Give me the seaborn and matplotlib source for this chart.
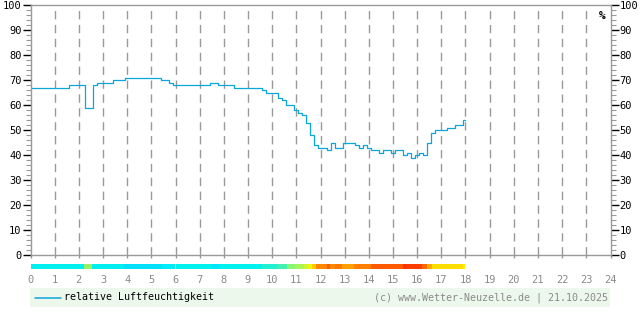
import numpy as np
import pandas as pd
import matplotlib
matplotlib.use("Agg")
import matplotlib.pyplot as plt
import seaborn as sns

# ---- data -------------------------------------------------------------
# relative humidity (%) every 10 minutes from 00:00 to 18:00
humidity = [
    67, 67, 67, 67, 67, 67, 67, 67, 67, 67,   # 0:00 - 1:30
    68, 68, 68, 68, 59, 59, 68, 69, 69, 69,   # 1:40 - 3:10
    69, 70, 70, 70, 71, 71, 71, 71, 71, 71,   # 3:20 - 4:50
    71, 71, 71, 70, 70, 69, 68, 68, 68, 68,   # 5:00 - 6:30
    68, 68, 68, 68, 68, 69, 69, 68, 68, 68,   # 6:40 - 8:10
    68, 67, 67, 67, 67, 67, 67, 67, 66, 65,   # 8:20 - 9:50
    65, 65, 63, 62, 60, 60, 58, 57, 56, 53,   # 10:00 - 11:30
    48, 44, 43, 43, 42, 45, 43, 43, 45, 45,   # 11:40 - 13:10
    45, 44, 43, 44, 43, 42, 42, 41, 42, 42,   # 13:20 - 14:50
    41, 42, 42, 40, 41, 39, 40, 41, 40, 45,   # 15:00 - 16:30
    49, 50, 50, 50, 51, 51, 52, 52, 54,       # 16:40 - 18:00
]
hours = np.arange(len(humidity)) / 6.0

# coloured strip below the chart (start hour, end hour, colour)
strip_start = [0.0, 2.2, 2.55, 3.85, 5.45, 6.0, 7.45, 7.8, 9.57, 10.2,
               10.6, 10.95, 11.3, 11.5, 11.64, 11.82, 12.26, 12.4, 12.6, 12.9,
               13.4, 14.1, 15.4, 15.6, 16.2, 16.4, 16.6, 17.9]
strip_end = strip_start[1:] + [18.0]
strip_color = ['#00f0f0', '#99f066', '#00eef0', '#00e0fa', '#00ecf8', '#00f2ee',
               '#00e6fa', '#00f2ee', '#22f0d0', '#44f0b0',
               '#88f577', '#a8f555', '#ccf533', '#eef511', '#ffcc00', '#ff8800',
               '#ff5a00', '#ff8800', '#ff7700', '#ffa000',
               '#ff8000', '#ff5a00', '#ff3300', '#ff3c00', '#ff6600', '#ffaa00',
               '#ffdd00', '#ffee00']

x_ticks = list(range(0, 25))
y_major = list(range(0, 101, 10))
y_minor = list(range(0, 101, 2))
series_name = "relative Luftfeuchtigkeit"
credit = "(c) www.Wetter-Neuzelle.de | 21.10.2025"
line_color = '#0aa6dc'

# ---- style ------------------------------------------------------------
sns.set_style("white")
plt.rcParams['font.family'] = ['DejaVu Sans Mono', 'DejaVu Sans']
plt.rcParams['lines.scale_dashes'] = False

W, H = 640, 315
fig = plt.figure(figsize=(W / 100, H / 100), dpi=100)
fig.patch.set_facecolor('white')

def fx(px):
    return px / W

def fy(py):
    return 1 - py / H

ax = fig.add_axes([fx(30.5), fy(255), fx(580), 250 / H])

df = pd.DataFrame({"hour": hours, "humidity": humidity})
sns.lineplot(data=df, x="hour", y="humidity", ax=ax, color=line_color,
             linewidth=0.9, legend=False, drawstyle='steps-mid')

ax.set_xlim(0, 24)
ax.set_ylim(0, 100)
ax.set_xlabel("")
ax.set_ylabel("")

# vertical dashed grid
for h in x_ticks[1:-1]:
    ax.axvline(h, color='#999999', linewidth=1.0, linestyle=(0, (6, 4)), zorder=0)

grey = '#999999'
for side in ['top', 'bottom', 'left', 'right']:
    ax.spines[side].set_visible(True)
    ax.spines[side].set_color(grey)
    ax.spines[side].set_linewidth(1.0)

ax.set_yticks(y_major)
ax.set_yticks(y_minor, minor=True)
ax.set_xticks(x_ticks)
ax.tick_params(axis='y', which='major', left=True, right=True, labelleft=True,
               labelright=True, direction='out', length=5.5, width=1.0,
               color='black', pad=1, labelsize=7.5, labelcolor='black')
ax.tick_params(axis='y', which='minor', left=True, right=True, direction='out',
               length=3.5, width=0.8, color=grey)
ax.tick_params(axis='x', which='major', bottom=True, direction='out', length=2.5,
               width=1.0, color=grey, pad=12, labelsize=7.5, labelcolor='#8a8a8a')

ax.text(0.985, 0.955, "%", transform=ax.transAxes, ha='center', va='center',
        fontsize=8, fontweight='bold', color='black')

# coloured strip
ax_strip = fig.add_axes([fx(30.5), fy(269), fx(580), 5 / H])
widths = [e - s for s, e in zip(strip_start, strip_end)]
ax_strip.barh(y=0, width=widths, left=strip_start, height=1.0, color=strip_color,
              align='center', linewidth=0)
ax_strip.set_xlim(0, 24)
ax_strip.set_ylim(-0.5, 0.5)
ax_strip.axis('off')

# legend bar
ax_leg = fig.add_axes([fx(30), fy(307), fx(580), 19 / H])
ax_leg.set_facecolor('#edf8ec')
for s in ax_leg.spines.values():
    s.set_visible(False)
ax_leg.set_xticks([])
ax_leg.set_yticks([])
ax_leg.set_xlim(0, 580)
ax_leg.set_ylim(0, 19)
ax_leg.plot([5, 31], [9.5, 9.5], color=line_color, linewidth=1.1)
ax_leg.text(34, 9.5, series_name, ha='left', va='center', fontsize=7.2, color='black')
ax_leg.text(578, 9.5, credit, ha='right', va='center', fontsize=7.2, color='#8a8a8a')

fig.savefig("out.png", dpi=100, facecolor='white')
